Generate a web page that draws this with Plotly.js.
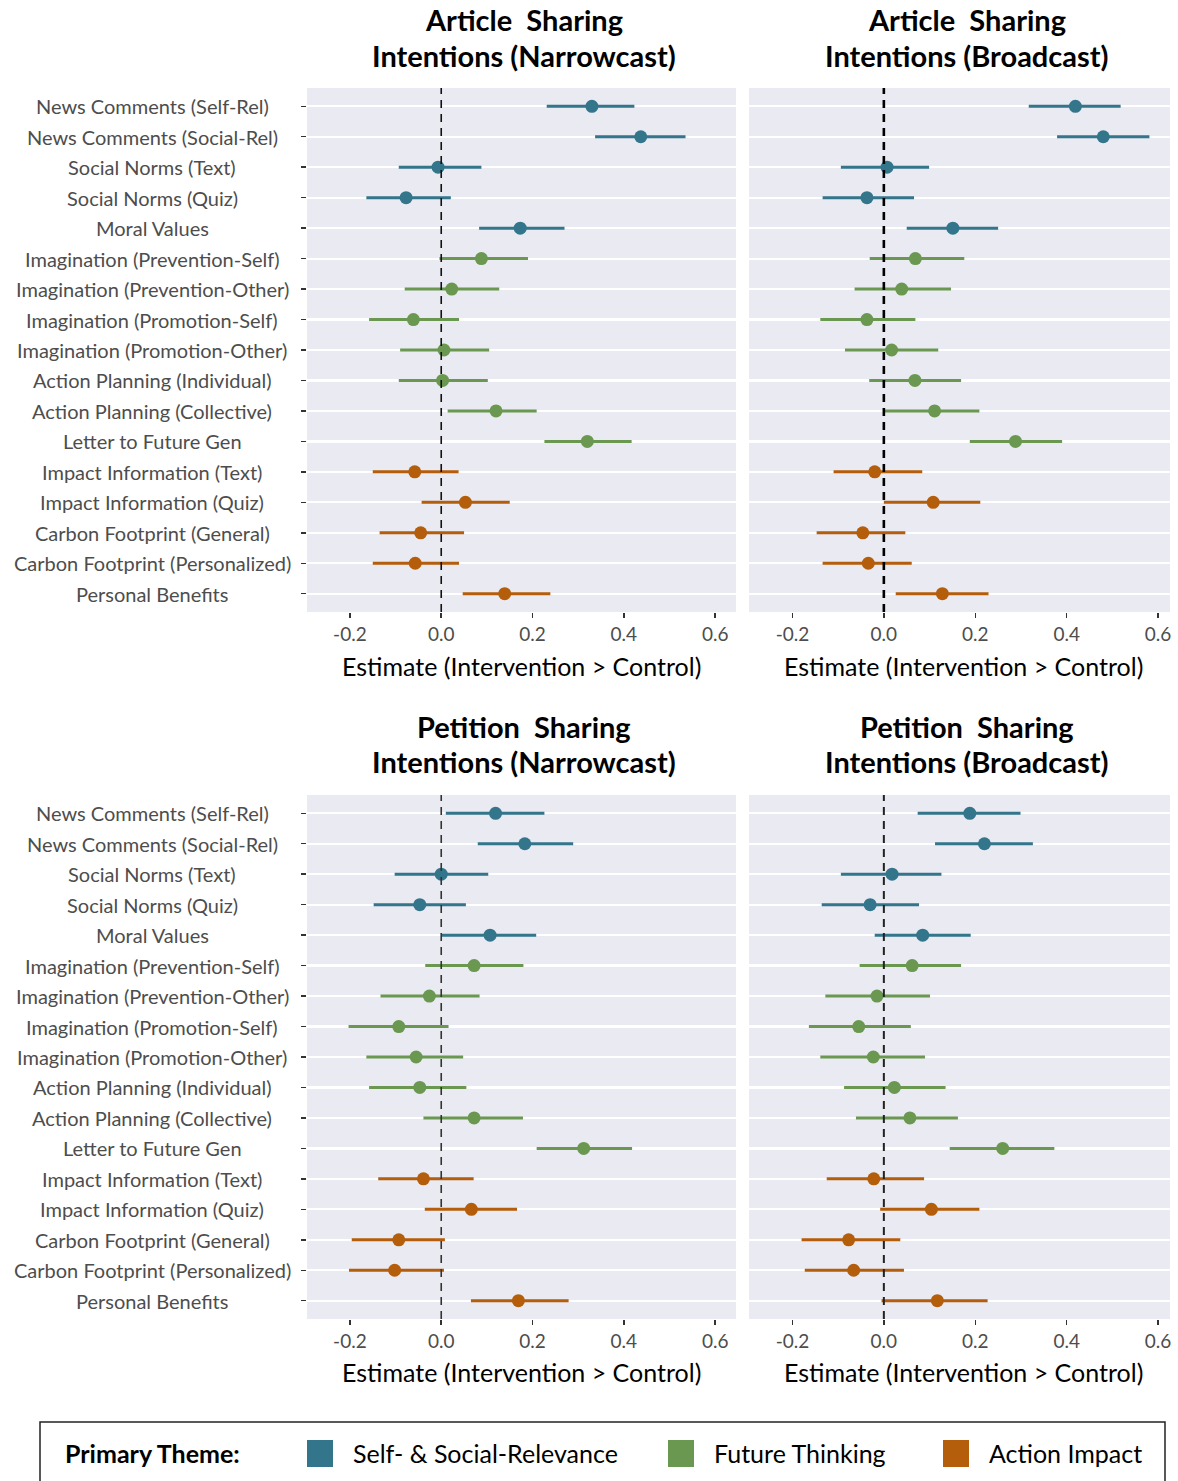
<!DOCTYPE html>
<html>
<head>
<meta charset="utf-8">
<script src="https://cdn.plot.ly/plotly-3.0.1.min.js"></script>
<style>
  html, body { margin: 0; padding: 0; background: #ffffff; }
  #chart { width: 1178px; height: 1481px; }
</style>
</head>
<body>
<div id="chart"></div>
<script>
// ---------------- DATA ----------------
const categories = [
  "News Comments (Self-Rel)",
  "News Comments (Social-Rel)",
  "Social Norms (Text)",
  "Social Norms (Quiz)",
  "Moral Values",
  "Imagination (Prevention-Self)",
  "Imagination (Prevention-Other)",
  "Imagination (Promotion-Self)",
  "Imagination (Promotion-Other)",
  "Action Planning (Individual)",
  "Action Planning (Collective)",
  "Letter to Future Gen",
  "Impact Information (Text)",
  "Impact Information (Quiz)",
  "Carbon Footprint (General)",
  "Carbon Footprint (Personalized)",
  "Personal Benefits"
];
const themeOfCategory = [
  "Self- & Social-Relevance","Self- & Social-Relevance","Self- & Social-Relevance","Self- & Social-Relevance","Self- & Social-Relevance",
  "Future Thinking","Future Thinking","Future Thinking","Future Thinking","Future Thinking","Future Thinking","Future Thinking",
  "Action Impact","Action Impact","Action Impact","Action Impact","Action Impact"
];
const themeNames = ["Self- & Social-Relevance", "Future Thinking", "Action Impact"];
const themeColors = ["#33758a", "#6a9850", "#b45d0a"];

// Article Sharing Intentions (Narrowcast)
const articleNarrowEst  = [0.330, 0.437, -0.007, -0.077, 0.173, 0.088, 0.023, -0.061, 0.006, 0.003, 0.120, 0.320, -0.058, 0.053, -0.045, -0.057, 0.139];
const articleNarrowLow  = [0.231, 0.337, -0.093, -0.164, 0.083, -0.004, -0.080, -0.158, -0.090, -0.093, 0.014, 0.226, -0.150, -0.043, -0.135, -0.150, 0.047];
const articleNarrowHigh = [0.423, 0.535, 0.088, 0.021, 0.270, 0.190, 0.127, 0.039, 0.105, 0.102, 0.209, 0.417, 0.038, 0.150, 0.050, 0.039, 0.239];

// Article Sharing Intentions (Broadcast)
const articleBroadEst  = [0.419, 0.480, 0.007, -0.037, 0.151, 0.069, 0.039, -0.037, 0.017, 0.068, 0.111, 0.288, -0.020, 0.108, -0.046, -0.034, 0.128];
const articleBroadLow  = [0.317, 0.379, -0.094, -0.134, 0.050, -0.031, -0.064, -0.139, -0.085, -0.032, 0.000, 0.188, -0.110, 0.000, -0.147, -0.134, 0.026];
const articleBroadHigh = [0.518, 0.581, 0.099, 0.066, 0.250, 0.176, 0.147, 0.069, 0.119, 0.169, 0.209, 0.390, 0.084, 0.211, 0.047, 0.061, 0.229];

// Petition Sharing Intentions (Narrowcast)
const petitionNarrowEst  = [0.119, 0.183, 0.000, -0.047, 0.107, 0.072, -0.026, -0.093, -0.055, -0.047, 0.072, 0.312, -0.039, 0.066, -0.093, -0.102, 0.169];
const petitionNarrowLow  = [0.010, 0.080, -0.102, -0.148, 0.001, -0.035, -0.133, -0.203, -0.164, -0.158, -0.039, 0.209, -0.138, -0.036, -0.196, -0.202, 0.065];
const petitionNarrowHigh = [0.226, 0.289, 0.103, 0.054, 0.208, 0.180, 0.084, 0.016, 0.048, 0.055, 0.179, 0.418, 0.071, 0.166, 0.008, 0.006, 0.279];

// Petition Sharing Intentions (Broadcast)
const petitionBroadEst  = [0.188, 0.220, 0.018, -0.030, 0.085, 0.062, -0.015, -0.055, -0.023, 0.023, 0.057, 0.260, -0.022, 0.104, -0.077, -0.066, 0.117];
const petitionBroadLow  = [0.074, 0.112, -0.094, -0.136, -0.020, -0.053, -0.128, -0.164, -0.139, -0.087, -0.061, 0.144, -0.125, -0.008, -0.180, -0.173, -0.005];
const petitionBroadHigh = [0.299, 0.326, 0.126, 0.077, 0.190, 0.169, 0.101, 0.059, 0.090, 0.135, 0.162, 0.373, 0.088, 0.209, 0.036, 0.044, 0.227];

const xTickVals = [-0.2, 0, 0.2, 0.4, 0.6];
const xTickText = ["-0.2", "0.0", "0.2", "0.4", "0.6"];
const panelTitleLine1 = ["Article  Sharing", "Article  Sharing", "Petition  Sharing", "Petition  Sharing"];
const panelTitleLine2 = ["Intentions (Narrowcast)", "Intentions (Broadcast)", "Intentions (Narrowcast)", "Intentions (Broadcast)"];
const xAxisTitle = "Estimate (Intervention > Control)";
const legendTitle = "Primary Theme:";

// ---------------- LAYOUT HELPERS ----------------
const W = 1178, H = 1481;
const px = v => v / W;
const py = v => 1 - v / H;
const FONT = "Lato, 'Open Sans', 'DejaVu Sans', sans-serif";

const panels = [
  {est: articleNarrowEst,  lo: articleNarrowLow,  hi: articleNarrowHigh,  xa: "x",  ya: "y",
   xd: [307, 736], yd: [88, 612], range: [-0.294, 0.6456], dashW: 1.6, dashC: "#111", yticks: true},
  {est: articleBroadEst,   lo: articleBroadLow,   hi: articleBroadHigh,   xa: "x2", ya: "y2",
   xd: [749, 1170], yd: [88, 612], range: [-0.295, 0.626], dashW: 2.6, dashC: "#000", yticks: false},
  {est: petitionNarrowEst, lo: petitionNarrowLow, hi: petitionNarrowHigh, xa: "x3", ya: "y3",
   xd: [307, 736], yd: [795, 1319], range: [-0.294, 0.6456], dashW: 1.6, dashC: "#333", yticks: true},
  {est: petitionBroadEst,  lo: petitionBroadLow,  hi: petitionBroadHigh,  xa: "x4", ya: "y4",
   xd: [749, 1170], yd: [795, 1319], range: [-0.295, 0.626], dashW: 2.0, dashC: "#222", yticks: false}
];

const traces = [];
const layout = {
  width: W, height: H,
  margin: {l: 0, r: 0, t: 0, b: 0},
  paper_bgcolor: "#ffffff",
  plot_bgcolor: "#eaeaf2",
  showlegend: false,
  font: {family: FONT, color: "#4d4d4d"},
  shapes: [],
  annotations: []
};

panels.forEach((p, k) => {
  const n = k === 0 ? "" : String(k + 1);
  themeNames.forEach((th, t) => {
    const idx = categories.map((c, i) => i).filter(i => themeOfCategory[i] === th);
    traces.push({
      type: "scatter",
      mode: "markers",
      xaxis: p.xa, yaxis: p.ya,
      x: idx.map(i => p.est[i]),
      y: idx.map(i => categories[i]),
      error_x: {
        type: "data", symmetric: false,
        array: idx.map(i => p.hi[i] - p.est[i]),
        arrayminus: idx.map(i => p.est[i] - p.lo[i]),
        color: themeColors[t], thickness: 3, width: 0
      },
      marker: {color: themeColors[t], size: 13, line: {width: 0}},
      hoverinfo: "x+y",
      cliponaxis: false
    });
  });

  layout["xaxis" + n] = {
    domain: [px(p.xd[0]), px(p.xd[1])],
    anchor: "y" + n,
    range: p.range,
    tickvals: xTickVals, ticktext: xTickText,
    ticks: "outside", ticklen: 5, tickwidth: 1.5, tickcolor: "#333333",
    tickfont: {family: FONT, size: 19, color: "#4d4d4d"},
    showgrid: false, zeroline: false, showline: false,
    fixedrange: true
  };
  layout["yaxis" + n] = {
    domain: [py(p.yd[1]), py(p.yd[0])],
    anchor: "x" + n,
    type: "category",
    categoryorder: "array", categoryarray: categories,
    range: [categories.length - 1 + 0.6, -0.6],
    showgrid: true, gridcolor: "#ffffff", gridwidth: 2.2,
    showticklabels: false,
    ticks: p.yticks ? "outside" : "", ticklen: 5, tickwidth: 1.5, tickcolor: "#333333",
    zeroline: false, showline: false,
    fixedrange: true
  };

  // dashed reference line at zero
  layout.shapes.push({
    type: "line", xref: p.xa, yref: "paper",
    x0: 0, x1: 0, y0: py(p.yd[1]), y1: py(p.yd[0]),
    line: {color: p.dashC, width: p.dashW, dash: "8px,6px"},
    layer: "above"
  });

  // y category labels (centered like ggplot)
  if (p.yticks) {
    categories.forEach((c, i) => {
      layout.annotations.push({
        xref: "paper", yref: p.ya, x: px(152), y: i,
        text: c, showarrow: false, xanchor: "center", yanchor: "middle",
        font: {family: FONT, size: 20, color: "#4d4d4d"}
      });
    });
  }

  // panel titles (two lines)
  const cx = (k % 2 === 0) ? 524 : 967;
  const ty = (k < 2) ? 20 : 726;
  layout.annotations.push({
    xref: "paper", yref: "paper", x: px(cx), y: py(ty),
    text: "<b>" + panelTitleLine1[k] + "</b>", showarrow: false,
    xanchor: "center", yanchor: "middle",
    font: {family: FONT, size: 29, color: "#000000"}
  });
  layout.annotations.push({
    xref: "paper", yref: "paper", x: px(cx), y: py(ty + 35),
    text: "<b>" + panelTitleLine2[k] + "</b>", showarrow: false,
    xanchor: "center", yanchor: "middle",
    font: {family: FONT, size: 29, color: "#000000"}
  });

  // x-axis title
  const ax = (k % 2 === 0) ? 521 : 964;
  const ay = (k < 2) ? 666 : 1372;
  layout.annotations.push({
    xref: "paper", yref: "paper", x: px(ax), y: py(ay),
    text: xAxisTitle, showarrow: false, xanchor: "center", yanchor: "middle",
    font: {family: FONT, size: 25, color: "#000000"}
  });
});

// ---------------- LEGEND ----------------
layout.shapes.push({
  type: "rect", xref: "paper", yref: "paper",
  x0: px(40), x1: px(1165), y0: py(1492), y1: py(1422),
  line: {color: "#222222", width: 1.5}, fillcolor: "rgba(0,0,0,0)"
});
layout.annotations.push({
  xref: "paper", yref: "paper", x: px(63), y: py(1453),
  text: "<b>" + legendTitle + "</b>", showarrow: false, xanchor: "left", yanchor: "middle",
  font: {family: FONT, size: 25, color: "#000000"}
});
const swatchX = [307, 668, 943];
themeNames.forEach((th, t) => {
  layout.shapes.push({
    type: "rect", xref: "paper", yref: "paper",
    x0: px(swatchX[t]), x1: px(swatchX[t] + 26), y0: py(1467), y1: py(1440),
    line: {width: 0}, fillcolor: themeColors[t]
  });
  layout.annotations.push({
    xref: "paper", yref: "paper", x: px(swatchX[t] + 44), y: py(1453),
    text: th, showarrow: false, xanchor: "left", yanchor: "middle",
    font: {family: FONT, size: 25, color: "#000000"}
  });
});

Plotly.newPlot("chart", traces, layout, {displayModeBar: false, staticPlot: true});
</script>
</body>
</html>
